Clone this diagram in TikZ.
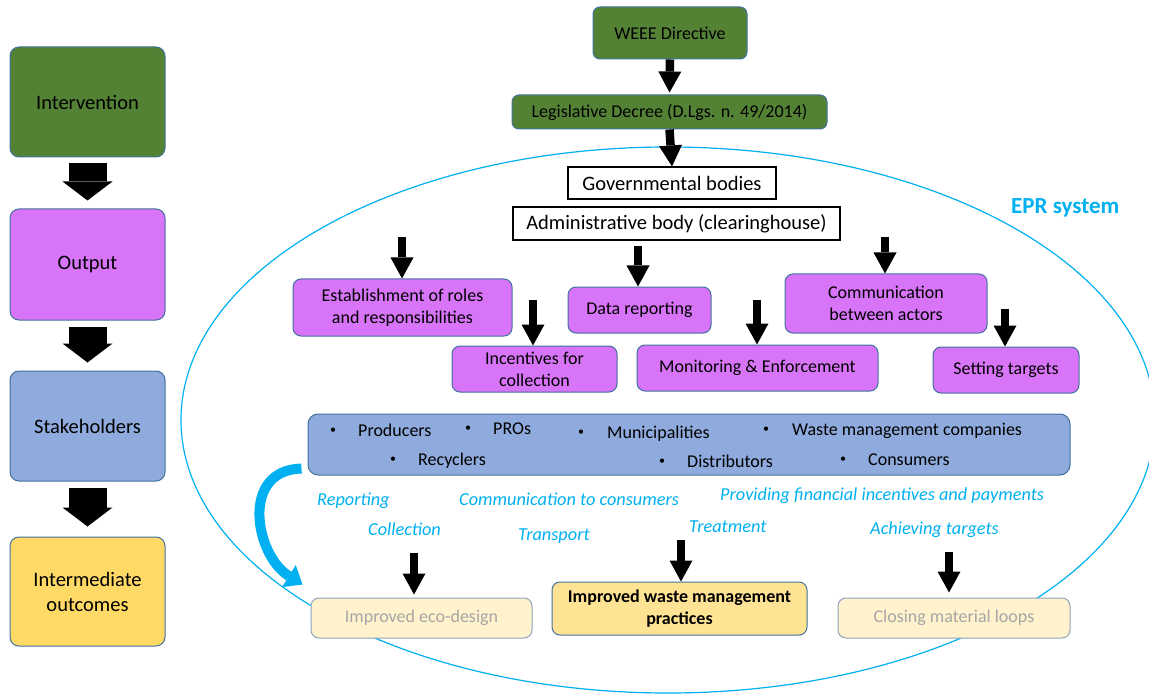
\documentclass[tikz,border=0pt]{standalone}
\usepackage{fontspec}
\setmainfont{Carlito}
\usetikzlibrary{arrows.meta}

\definecolor{grn}{HTML}{548235}
\definecolor{vio}{HTML}{D774F8}
\definecolor{stk}{HTML}{8FAADC}
\definecolor{ylw}{HTML}{FFD966}
\definecolor{ylwmid}{HTML}{FFE394}
\definecolor{ylwlt}{HTML}{FFF2CC}
\definecolor{edge}{HTML}{41719C}
\definecolor{edgelt}{HTML}{8FA3BF}
\definecolor{epr}{HTML}{00B0F0}
\definecolor{greytext}{HTML}{A6A6A6}

\tikzset{
  lbox/.style={draw=edge, line width=1pt, rounded corners=9pt, minimum width=155pt,
    align=center, inner sep=0pt, font=\fontsize{20.5}{25}\selectfont},
  gbox/.style={draw=edge, fill=grn, line width=1pt, rounded corners=7pt,
    align=center, inner sep=0pt, font=\fontsize{18}{22}\selectfont},
  wbox/.style={draw=black, fill=white, line width=1.1pt, align=center, inner sep=0pt,
    font=\fontsize{20.5}{25}\selectfont},
  vbox/.style={draw=edge, fill=vio, line width=1pt, rounded corners=8pt,
    align=center, inner sep=0pt, font=\fontsize{18}{22}\selectfont},
  obox/.style={draw=edge, line width=1pt, rounded corners=8pt,
    align=center, inner sep=0pt, font=\fontsize{18}{22}\selectfont},
  item/.style={anchor=base west, inner sep=0pt, font=\fontsize{18}{22}\selectfont},
  dot/.style={anchor=base west, inner sep=0pt, font=\fontsize{12}{14}\selectfont},
  lab/.style={anchor=base west, inner sep=0pt, text=epr,
    font=\fontsize{18.3}{22}\selectfont\itshape},
  bigarrow/.style={line width=38pt,
    -{Triangle[width=50pt,length=19pt,line width=0pt]}},
  barrow/.style={line width=8.5pt,
    -{Triangle[width=23pt,length=21pt,line width=0pt]}},
  curvearrow/.style={draw=epr, line width=10pt,
    -{Triangle[width=26pt,length=16pt,line width=0pt]}}
}

\begin{document}
\begin{tikzpicture}[x=1pt,y=-1pt]
\useasboundingbox (0,0) rectangle (1149,695);

% EPR system boundary
\draw[epr, line width=1.2pt] (668,420) ellipse [x radius=487, y radius=273];
\node[anchor=base west, inner sep=0pt, text=epr, font=\fontsize{23}{27}\selectfont\bfseries]
  (eprlabel) at (1011,214) {EPR system};

% left column: levels of the logic model
\node[lbox, fill=grn, minimum height=110pt] (interv) at (87.5,102) {Intervention};
\node[lbox, fill=vio, minimum height=111pt] (output) at (87.5,264.5) {Output};
\node[lbox, fill=stk, minimum height=110pt] (stakel) at (87.5,426) {Stakeholders};
\node[lbox, fill=ylw, minimum height=109pt] (interm) at (87.5,591.5) {Intermediate\\outcomes};

\draw[bigarrow] ([yshift=-6pt]interv.south) -- ([yshift=8pt]output.north);
\draw[bigarrow] ([yshift=-6pt]output.south) -- ([yshift=8pt]stakel.north);
\draw[bigarrow] ([yshift=-6pt]stakel.south) -- ([yshift=10pt]interm.north);

% legislation
\node[gbox, minimum width=154pt, minimum height=52pt] (weee) at (670,33) {WEEE Directive};
\node[gbox, minimum width=315pt, minimum height=34pt] (decree) at (669.5,112)
  {Legislative Decree (D.Lgs. n. 49/2014)};
\node[wbox, minimum width=208pt, minimum height=32pt] (gov) at (672,183) {Governmental bodies};
\node[wbox, minimum width=327pt, minimum height=33pt] (admin) at (676.5,223.5)
  {Administrative body (clearinghouse)};

\draw[barrow] (weee.south) -- ([yshift=2pt]decree.north);
\draw[barrow] (decree.south) -- (gov.north);

% outputs
\node[vbox, minimum width=219pt, minimum height=57pt] (estab) at (402.5,307.5)
  {Establishment of roles\\and responsibilities};
\node[vbox, minimum width=165pt, minimum height=46pt] (incent) at (534.5,369)
  {Incentives for\\collection};
\node[vbox, minimum width=143pt, minimum height=46pt] (datarep) at (639.5,310) {Data reporting};
\node[vbox, minimum width=241pt, minimum height=46pt] (monit) at (757.5,368)
  {Monitoring \& Enforcement};
\node[vbox, minimum width=202pt, minimum height=59pt] (comm) at (886,303.5)
  {Communication\\between actors};
\node[vbox, minimum width=146pt, minimum height=46pt] (setting) at (1006,370) {Setting targets};

\coordinate (estab-in) at (402,237);
\coordinate (incent-in) at (533,300);
\coordinate (datarep-in) at (638,246);
\coordinate (monit-in) at (757,300);
\coordinate (comm-in) at (885,237);
\coordinate (setting-in) at (1005,309);
\draw[barrow] (estab-in) -- (estab-in |- estab.north);
\draw[barrow] (incent-in) -- (incent-in |- incent.north);
\draw[barrow] (datarep-in) -- (datarep-in |- datarep.north);
\draw[barrow] (monit-in) -- (monit-in |- monit.north);
\draw[barrow] (comm-in) -- (comm-in |- comm.north);
\draw[barrow] (setting-in) -- (setting-in |- setting.north);

% stakeholders
\node[draw=edge, fill=stk, line width=1pt, rounded corners=10pt, minimum width=762pt,
  minimum height=61pt, inner sep=0pt] (stake) at (689,444.5) {};
\node[dot] (b1) at (330,433) {•};
\node[item] (s1) at (358,436) {Producers};
\node[dot] (b2) at (465,431) {•};
\node[item] (s2) at (493,434) {PROs};
\node[dot] (b3) at (578,435) {•};
\node[item] (s3) at (607,438) {Municipalities};
\node[dot] (b4) at (763,432) {•};
\node[item] (s4) at (792,435) {Waste management companies};
\node[dot] (b5) at (390,462) {•};
\node[item] (s5) at (418,465) {Recyclers};
\node[dot] (b6) at (659,464) {•};
\node[item] (s6) at (687,467) {Distributors};
\node[dot] (b7) at (840,462) {•};
\node[item] (s7) at (868,465) {Consumers};

% activities
\node[lab] (l1) at (317,505) {Reporting};
\node[lab] (l2) at (459,505) {Communication to consumers};
\node[lab] (l3) at (720,500) {Providing financial incentives and payments};
\node[lab] (l4) at (368,535) {Collection};
\node[lab] (l5) at (518,540) {Transport};
\node[lab] (l6) at (689,532) {Treatment};
\node[lab] (l7) at (870,534) {Achieving targets};

% intermediate outcomes
\node[obox, fill=ylwlt, draw=edgelt, text=greytext, minimum width=221pt, minimum height=40pt]
  (eco) at (421.5,618) {Improved eco-design};
\node[obox, fill=ylwmid, minimum width=255pt, minimum height=53pt,
  font=\fontsize{18}{22}\selectfont\bfseries] (waste) at (679.5,608.5)
  {Improved waste management\\practices};
\node[obox, fill=ylwlt, draw=edgelt, text=greytext, minimum width=232pt, minimum height=40pt]
  (closing) at (954,618) {Closing material loops};

\coordinate (eco-in) at (414,553);
\coordinate (waste-in) at (681,540);
\coordinate (closing-in) at (949,552);
\draw[barrow, shorten >=3pt] (eco-in) -- (eco-in |- eco.north);
\draw[barrow] (waste-in) -- (waste-in |- waste.north);
\draw[barrow, shorten >=5pt] (closing-in) -- (closing-in |- closing.north);

% feedback from stakeholders to outcomes
\draw[curvearrow] ([xshift=-6pt,yshift=-24pt]stake.west)
  .. controls (240,470) and (255,555) .. ([xshift=-8pt,yshift=13pt]eco.north west);
\end{tikzpicture}
\end{document}
